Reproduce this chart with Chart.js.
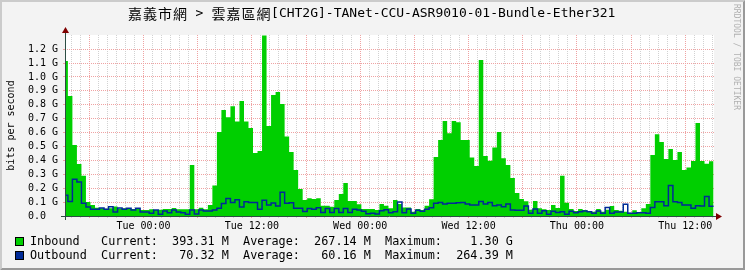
<!DOCTYPE html>
<html>
<head>
<meta charset="utf-8">
<title>TANet traffic</title>
<script src="https://cdn.jsdelivr.net/npm/chart.js@4.4.1/dist/chart.umd.min.js"></script>
<style>
  html, body { margin: 0; padding: 0; background: #F3F3F3; }
  #wrap { width: 745px; height: 270px; }
</style>
</head>
<body>
<div id="wrap"><canvas id="chart" width="745" height="270"></canvas></div>
<script>
// 30 minute samples in Gbit/s, oldest first
const inbound = [
    1.115, 0.863, 0.511, 0.374, 0.290, 0.100, 0.080, 0.060, 0.055, 0.053, 0.055, 0.068,
    0.053, 0.055, 0.053, 0.050, 0.050, 0.043, 0.043, 0.048, 0.043, 0.045, 0.050, 0.050,
    0.058, 0.048, 0.048, 0.048, 0.367, 0.048, 0.060, 0.048, 0.080, 0.220, 0.604, 0.763,
    0.710, 0.790, 0.680, 0.827, 0.680, 0.633, 0.453, 0.468, 1.298, 0.647, 0.870, 0.892,
    0.806, 0.571, 0.460, 0.331, 0.194, 0.115, 0.127, 0.122, 0.127, 0.074, 0.074, 0.067,
    0.115, 0.158, 0.237, 0.108, 0.108, 0.084, 0.050, 0.050, 0.050, 0.043, 0.086, 0.074,
    0.055, 0.115, 0.086, 0.062, 0.062, 0.031, 0.050, 0.043, 0.074, 0.120, 0.424, 0.547,
    0.683, 0.595, 0.683, 0.674, 0.547, 0.547, 0.420, 0.360, 1.122, 0.432, 0.398, 0.492,
    0.604, 0.415, 0.367, 0.274, 0.165, 0.122, 0.106, 0.045, 0.108, 0.055, 0.048, 0.043,
    0.079, 0.058, 0.290, 0.096, 0.050, 0.036, 0.050, 0.043, 0.036, 0.031, 0.050, 0.031,
    0.045, 0.072, 0.043, 0.038, 0.030, 0.024, 0.041, 0.024, 0.055, 0.086, 0.439, 0.588,
    0.532, 0.410, 0.482, 0.403, 0.460, 0.331, 0.348, 0.396, 0.669, 0.396, 0.376, 0.393
];

const outbound = [
    0.150, 0.105, 0.264, 0.245, 0.091, 0.065, 0.048, 0.048, 0.058, 0.048, 0.067, 0.029,
    0.058, 0.048, 0.055, 0.043, 0.055, 0.029, 0.029, 0.019, 0.043, 0.012, 0.036, 0.024,
    0.043, 0.029, 0.024, 0.012, 0.043, 0.014, 0.043, 0.036, 0.036, 0.043, 0.055, 0.090,
    0.125, 0.098, 0.117, 0.065, 0.103, 0.098, 0.098, 0.048, 0.113, 0.079, 0.094, 0.072,
    0.170, 0.091, 0.096, 0.055, 0.055, 0.033, 0.054, 0.048, 0.060, 0.026, 0.054, 0.026,
    0.054, 0.026, 0.054, 0.026, 0.048, 0.043, 0.034, 0.017, 0.019, 0.014, 0.038, 0.045,
    0.024, 0.030, 0.100, 0.024, 0.050, 0.019, 0.041, 0.034, 0.048, 0.060, 0.091, 0.098,
    0.086, 0.091, 0.091, 0.096, 0.098, 0.086, 0.079, 0.079, 0.105, 0.086, 0.098, 0.074,
    0.079, 0.067, 0.086, 0.043, 0.041, 0.041, 0.072, 0.019, 0.050, 0.019, 0.038, 0.012,
    0.034, 0.026, 0.031, 0.012, 0.034, 0.024, 0.031, 0.036, 0.031, 0.019, 0.036, 0.019,
    0.062, 0.019, 0.029, 0.029, 0.084, 0.019, 0.019, 0.024, 0.024, 0.019, 0.062, 0.103,
    0.103, 0.074, 0.220, 0.103, 0.098, 0.079, 0.079, 0.055, 0.074, 0.072, 0.141, 0.070
];

// Axis ticks
const yTickValues = [0, 0.1, 0.2, 0.3, 0.4, 0.5, 0.6, 0.7, 0.8, 0.9, 1.0, 1.1, 1.2];
const yTickLabels = ['0.0  ', '0.1 G', '0.2 G', '0.3 G', '0.4 G', '0.5 G', '0.6 G',
                     '0.7 G', '0.8 G', '0.9 G', '1.0 G', '1.1 G', '1.2 G'];
const xLabelHours = [0, 12, 24, 36, 48, 60];   // hours after Tue 00:00
const xLabels = ['Tue 00:00', 'Tue 12:00', 'Wed 00:00', 'Wed 12:00', 'Thu 00:00', 'Thu 12:00'];

// Legend
const seriesNames = ['Inbound', 'Outbound'];
const seriesColors = ['#00CF00', '#002A97'];
const currentText = ['393.31 M', '70.32 M'];
const averageText = ['267.14 M', '60.16 M'];
const maximumText = ['1.30 G', '264.39 M'];

const titleText = '嘉義市網 > 雲嘉區網[CHT2G]-TANet-CCU-ASR9010-01-Bundle-Ether321';
const watermark = 'RRDTOOL / TOBI OETIKER';

// Time window (hours relative to Tue 00:00)
const xMin = -8.69;
const xMax = 63.18;
const firstSampleHour = -8.87;
const sampleHours = 0.5;

const MONO = '"DejaVu Sans Mono", monospace';
const CJK = '"Noto Sans CJK TC", "Noto Sans CJK SC", sans-serif';
const minorGrid = '#D2D2D2';
const majorGrid = '#EFA3A3';

function toPoints(values) {
    const pts = values.map((v, i) => ({ x: firstSampleHour + i * sampleHours, y: v }));
    // close the last step
    pts.push({ x: firstSampleHour + values.length * sampleHours, y: values[values.length - 1] });
    return pts;
}

function drawTitle(ctx) {
    const parts = titleText.split(/([\u3400-\u9fff]+)/).filter(p => p.length);
    const cjkCell = 15;
    ctx.font = '13px ' + MONO;
    let total = 0;
    parts.forEach(p => {
        total += /[\u3400-\u9fff]/.test(p) ? p.length * cjkCell : ctx.measureText(p).width;
    });
    let x = 371.5 - total / 2;
    const y = 14;
    ctx.fillStyle = '#000';
    ctx.textBaseline = 'middle';
    parts.forEach(p => {
        if (/[\u3400-\u9fff]/.test(p)) {
            ctx.font = '14px ' + CJK;
            ctx.textAlign = 'center';
            for (const ch of p) {
                ctx.fillText(ch, x + cjkCell / 2, y);
                x += cjkCell;
            }
        } else {
            ctx.font = '13px ' + MONO;
            ctx.textAlign = 'left';
            ctx.fillText(p, x, y);
            x += ctx.measureText(p).width;
        }
    });
}

function drawLegend(ctx) {
    ctx.font = '11.8px ' + MONO;
    ctx.textAlign = 'left';
    ctx.textBaseline = 'middle';
    seriesNames.forEach((name, i) => {
        const y = 242 + i * 14;
        ctx.fillStyle = seriesColors[i];
        ctx.fillRect(15, y - 5, 9, 9);
        ctx.strokeStyle = '#000';
        ctx.lineWidth = 1;
        ctx.strokeRect(15.5, y - 4.5, 8, 8);
        const line = name.padEnd(10) + 'Current:' + currentText[i].padStart(10) +
            '  Average:' + averageText[i].padStart(10) +
            '  Maximum:' + maximumText[i].padStart(10);
        ctx.fillStyle = '#000';
        ctx.fillText(line, 30, y);
    });
}

const rrdFrame = {
    id: 'rrdFrame',
    beforeDraw(chart) {
        const { ctx, chartArea: a, width: w, height: h } = chart;
        ctx.save();
        ctx.fillStyle = '#F3F3F3';
        ctx.fillRect(0, 0, w, h);
        // 3d border
        ctx.fillStyle = '#CBCBCB';
        ctx.beginPath();
        ctx.moveTo(0, h); ctx.lineTo(2, h - 2); ctx.lineTo(2, 2);
        ctx.lineTo(w - 2, 2); ctx.lineTo(w, 0); ctx.lineTo(0, 0);
        ctx.closePath(); ctx.fill();
        ctx.fillStyle = '#999999';
        ctx.beginPath();
        ctx.moveTo(2, h - 2); ctx.lineTo(w - 2, h - 2); ctx.lineTo(w - 2, 2);
        ctx.lineTo(w, 0); ctx.lineTo(w, h); ctx.lineTo(0, h);
        ctx.closePath(); ctx.fill();
        // canvas
        ctx.fillStyle = '#FFFFFF';
        ctx.fillRect(a.left, a.top, a.right - a.left, a.bottom - a.top);
        ctx.restore();
    },
    afterDatasetsDraw(chart) {
        const { ctx, chartArea: a } = chart;
        const x0 = a.left + 0.5, y0 = a.bottom + 0.5;
        ctx.save();
        ctx.strokeStyle = '#2C4D43';
        ctx.lineWidth = 1;
        ctx.beginPath();
        ctx.moveTo(a.left - 4, y0); ctx.lineTo(a.right + 4, y0);
        ctx.moveTo(x0, a.bottom + 4); ctx.lineTo(x0, a.top - 4);
        ctx.stroke();
        // arrows
        ctx.fillStyle = '#7F0000';
        ctx.beginPath();
        ctx.moveTo(a.right + 2, y0 - 3.5); ctx.lineTo(a.right + 2, y0 + 3.5); ctx.lineTo(a.right + 8, y0);
        ctx.closePath(); ctx.fill();
        ctx.beginPath();
        ctx.moveTo(x0 - 3.5, a.top - 2); ctx.lineTo(x0 + 3.5, a.top - 2); ctx.lineTo(x0, a.top - 8);
        ctx.closePath(); ctx.fill();
        ctx.restore();
    },
    afterDraw(chart) {
        const { ctx } = chart;
        ctx.save();
        drawTitle(ctx);
        drawLegend(ctx);
        // watermark on the right edge
        ctx.translate(736, 4);
        ctx.rotate(Math.PI / 2);
        ctx.font = '8px ' + MONO;
        ctx.fillStyle = '#B0B0B0';
        ctx.textAlign = 'left';
        ctx.textBaseline = 'middle';
        ctx.fillText(watermark, 0, 0);
        ctx.restore();
    }
};

new Chart(document.getElementById('chart'), {
    type: 'line',
    data: {
        datasets: [
            {
                label: seriesNames[1],
                data: toPoints(outbound),
                stepped: true,
                borderColor: seriesColors[1],
                borderWidth: 1.5,
                pointRadius: 0,
                fill: false,
                order: 0
            },
            {
                label: seriesNames[0],
                data: toPoints(inbound),
                stepped: true,
                borderColor: 'rgba(0,0,0,0)',
                borderWidth: 1,
                backgroundColor: seriesColors[0],
                pointRadius: 0,
                fill: 'origin',
                order: 1
            }
        ]
    },
    options: {
        responsive: false,
        animation: false,
        devicePixelRatio: 1,
        layout: { padding: { top: 35, right: 31, bottom: 40, left: 0 } },
        plugins: {
            legend: { display: false },
            tooltip: { enabled: false },
            title: { display: false }
        },
        scales: {
            x: {
                type: 'linear',
                min: xMin,
                max: xMax,
                afterBuildTicks: scale => {
                    const ticks = [];
                    for (let h = Math.ceil(xMin); h <= xMax; h++) ticks.push({ value: h });
                    scale.ticks = ticks;
                },
                afterFit: scale => { scale.height = 14; },
                grid: {
                    color: c => (c.tick && c.tick.value % 6 === 0) ? majorGrid : minorGrid,
                    tickColor: c => (c.tick && c.tick.value % 6 === 0) ? majorGrid : minorGrid,
                    tickLength: 2,
                    lineWidth: 1
                },
                border: { display: false, dash: [1, 1] },
                ticks: {
                    autoSkip: false,
                    maxRotation: 0,
                    minRotation: 0,
                    padding: 2,
                    color: '#000',
                    font: { family: MONO, size: 10 },
                    callback: v => {
                        const i = xLabelHours.indexOf(v);
                        return i >= 0 ? xLabels[i] : '';
                    }
                }
            },
            y: {
                type: 'linear',
                min: 0,
                max: 1.302,
                afterBuildTicks: scale => {
                    scale.ticks = yTickValues.map(v => ({ value: v }));
                },
                afterFit: scale => { scale.width = 65; },
                grid: {
                    color: c => (c.tick && c.tick.value === 0) ? 'rgba(0,0,0,0)' : majorGrid,
                    tickColor: majorGrid,
                    tickLength: 2,
                    lineWidth: 1
                },
                border: { display: false, dash: [1, 1] },
                ticks: {
                    padding: 5,
                    color: '#000',
                    font: { family: MONO, size: 10 },
                    callback: (v, i) => yTickLabels[i]
                },
                title: {
                    display: true,
                    text: 'bits per second',
                    color: '#000',
                    font: { family: MONO, size: 10 },
                    padding: { top: 5, bottom: 0 }
                }
            }
        }
    },
    plugins: [rrdFrame]
});
</script>
</body>
</html>
